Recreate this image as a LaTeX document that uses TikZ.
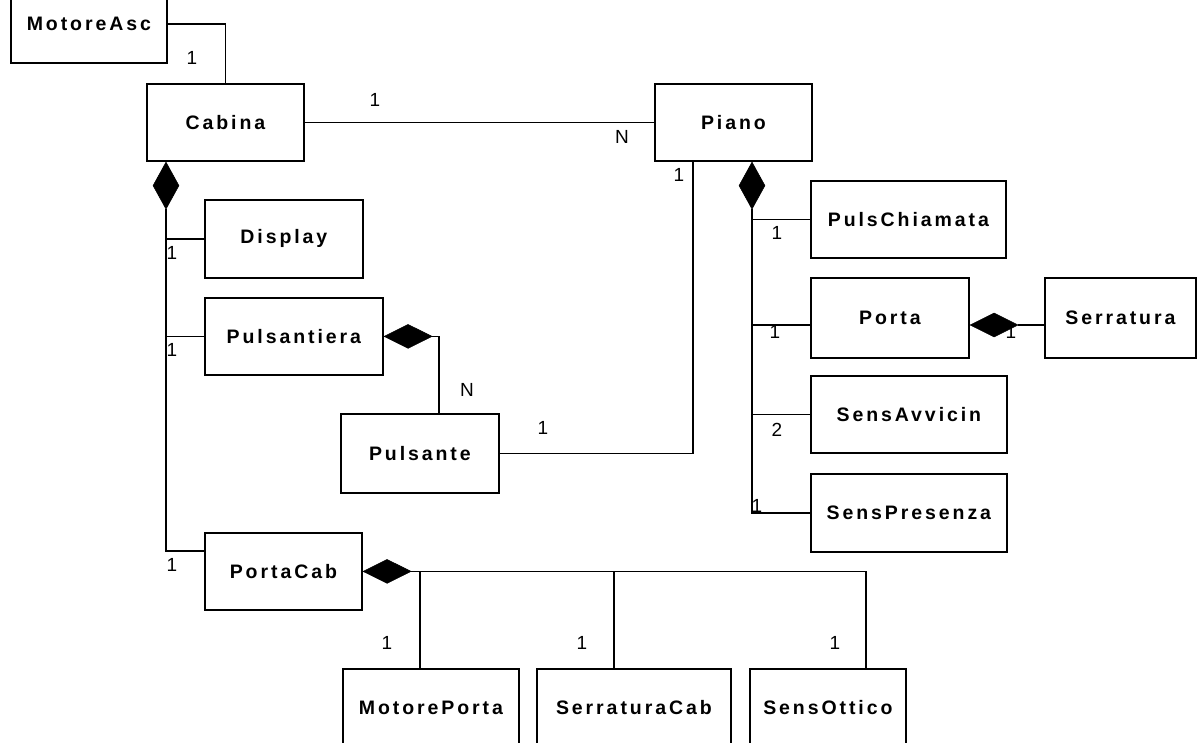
\documentclass[tikz,border=0pt]{standalone}
\usepackage{fontspec}
\setmainfont{Liberation Sans}
\newfontfamily\clsfont{Liberation Sans Bold}[LetterSpace=15]
\usetikzlibrary{shapes.geometric,calc}
\tikzset{
  cls/.style={draw=black, line width=1.8pt, fill=white, inner sep=0pt, anchor=north west,
    font=\clsfont\fontsize{19.5}{23}\selectfont},
  conn/.style={draw=black, line width=1.5pt},
  vdiam/.style={diamond, fill=black, draw=black, line width=0.6pt, inner sep=0pt,
    minimum width=26pt, minimum height=47pt, anchor=north},
  hdiam/.style={diamond, fill=black, draw=black, line width=0.6pt, inner sep=0pt,
    minimum width=48pt, minimum height=24pt, anchor=west},
  lbl/.style={font=\fontsize{19}{22}\selectfont, inner sep=0pt}
}
\newcommand{\clsbox}[6]{\node[cls, minimum width=#4pt, minimum height=#5pt] (#1) at (#2,#3) {#6};}
\begin{document}
\begin{tikzpicture}[x=1pt,y=-1pt]
\clip (0,0) rectangle (1197,742);
\fill[white] (0,0) rectangle (1197,742);

% classes
\clsbox{motoreasc}{10}{-16}{156}{78}{MotoreAsc}
\clsbox{cabina}{146}{83}{157}{77}{Cabina}
\clsbox{piano}{654}{83}{157}{77}{Piano}
\clsbox{display}{204}{199}{158}{78}{Display}
\clsbox{pulsantiera}{204}{297}{178}{77}{Pulsantiera}
\clsbox{pulsante}{340}{413}{158}{79}{Pulsante}
\clsbox{pulschiamata}{810}{180}{195}{77}{PulsChiamata}
\clsbox{porta}{810}{277}{158}{80}{Porta}
\clsbox{serratura}{1044}{277}{151}{80}{Serratura}
\clsbox{sensavvicin}{810}{375}{196}{77}{SensAvvicin}
\clsbox{senspresenza}{810}{473}{196}{78}{SensPresenza}
\clsbox{portacab}{204}{532}{157}{77}{PortaCab}
\clsbox{motoreporta}{342}{668}{176}{78}{MotorePorta}
\clsbox{serraturacab}{536}{668}{194}{78}{SerraturaCab}
\clsbox{sensottico}{749}{668}{156}{78}{SensOttico}

% diamonds
\node[vdiam] (dcab) at ($(cabina.south west)+(20,0)$) {};
\node[vdiam] (dpiano) at ($(piano.south west)+(98,0)$) {};
\node[hdiam] (dpuls) at (pulsantiera.east) {};
\node[hdiam] (dporta) at ($(porta.north east)+(0,48)$) {};
\node[hdiam] (dpcab) at (portacab.east) {};

% helper coordinates
\coordinate (pcabin) at ($(portacab.north west)+(0,19)$);
\coordinate (pulsin) at ($(pulsante.north west)+(99,0)$);
\coordinate (pianoin) at ($(piano.south west)+(39,0)$);
\coordinate (portain) at ($(porta.north west)+(0,48)$);
\coordinate (serrin) at ($(serratura.north west)+(0,48)$);
\coordinate (mpin) at ($(motoreporta.north west)+(78,0)$);
\coordinate (scin) at ($(serraturacab.north west)+(78,0)$);
\coordinate (soin) at ($(sensottico.north west)+(117,0)$);

% connectors
\draw[conn] (motoreasc.east) -| (cabina.north);
\draw[conn] (cabina.east) -- (piano.west);
\draw[conn] (dcab.south) |- (display.west);
\draw[conn] (dcab.south) |- (pulsantiera.west);
\draw[conn] (dcab.south) |- (pcabin);
\draw[conn] (dpuls.east) -| (pulsin);
\draw[conn] (pulsante.east) -| (pianoin);
\draw[conn] (dpiano.south) |- (pulschiamata.west);
\draw[conn] (dpiano.south) |- (portain);
\draw[conn] (dpiano.south) |- (sensavvicin.west);
\draw[conn] (dpiano.south) |- (senspresenza.west);
\draw[conn] (dporta.east) -- (serrin);
\draw[conn] (dpcab.east) -| (mpin);
\draw[conn] (dpcab.east) -| (scin);
\draw[conn] (dpcab.east) -| (soin);

% multiplicities
\node[lbl] (m1) at (192,58) {1};
\node[lbl] (m2) at (375,100) {1};
\node[lbl] (m3) at (622,137) {N};
\node[lbl] (m4) at (679,175) {1};
\node[lbl] (m5) at (172,253) {1};
\node[lbl] (m6) at (172,350) {1};
\node[lbl] (m7) at (172,565) {1};
\node[lbl] (m8) at (467,390) {N};
\node[lbl] (m9) at (543,428) {1};
\node[lbl] (m10) at (777,233) {1};
\node[lbl] (m11) at (775,332) {1};
\node[lbl] (m12) at (1011,332) {1};
\node[lbl] (m13) at (777,430) {2};
\node[lbl] (m14) at (757,506) {1};
\node[lbl] (m15) at (387,643) {1};
\node[lbl] (m16) at (582,643) {1};
\node[lbl] (m17) at (835,643) {1};
\end{tikzpicture}
\end{document}
